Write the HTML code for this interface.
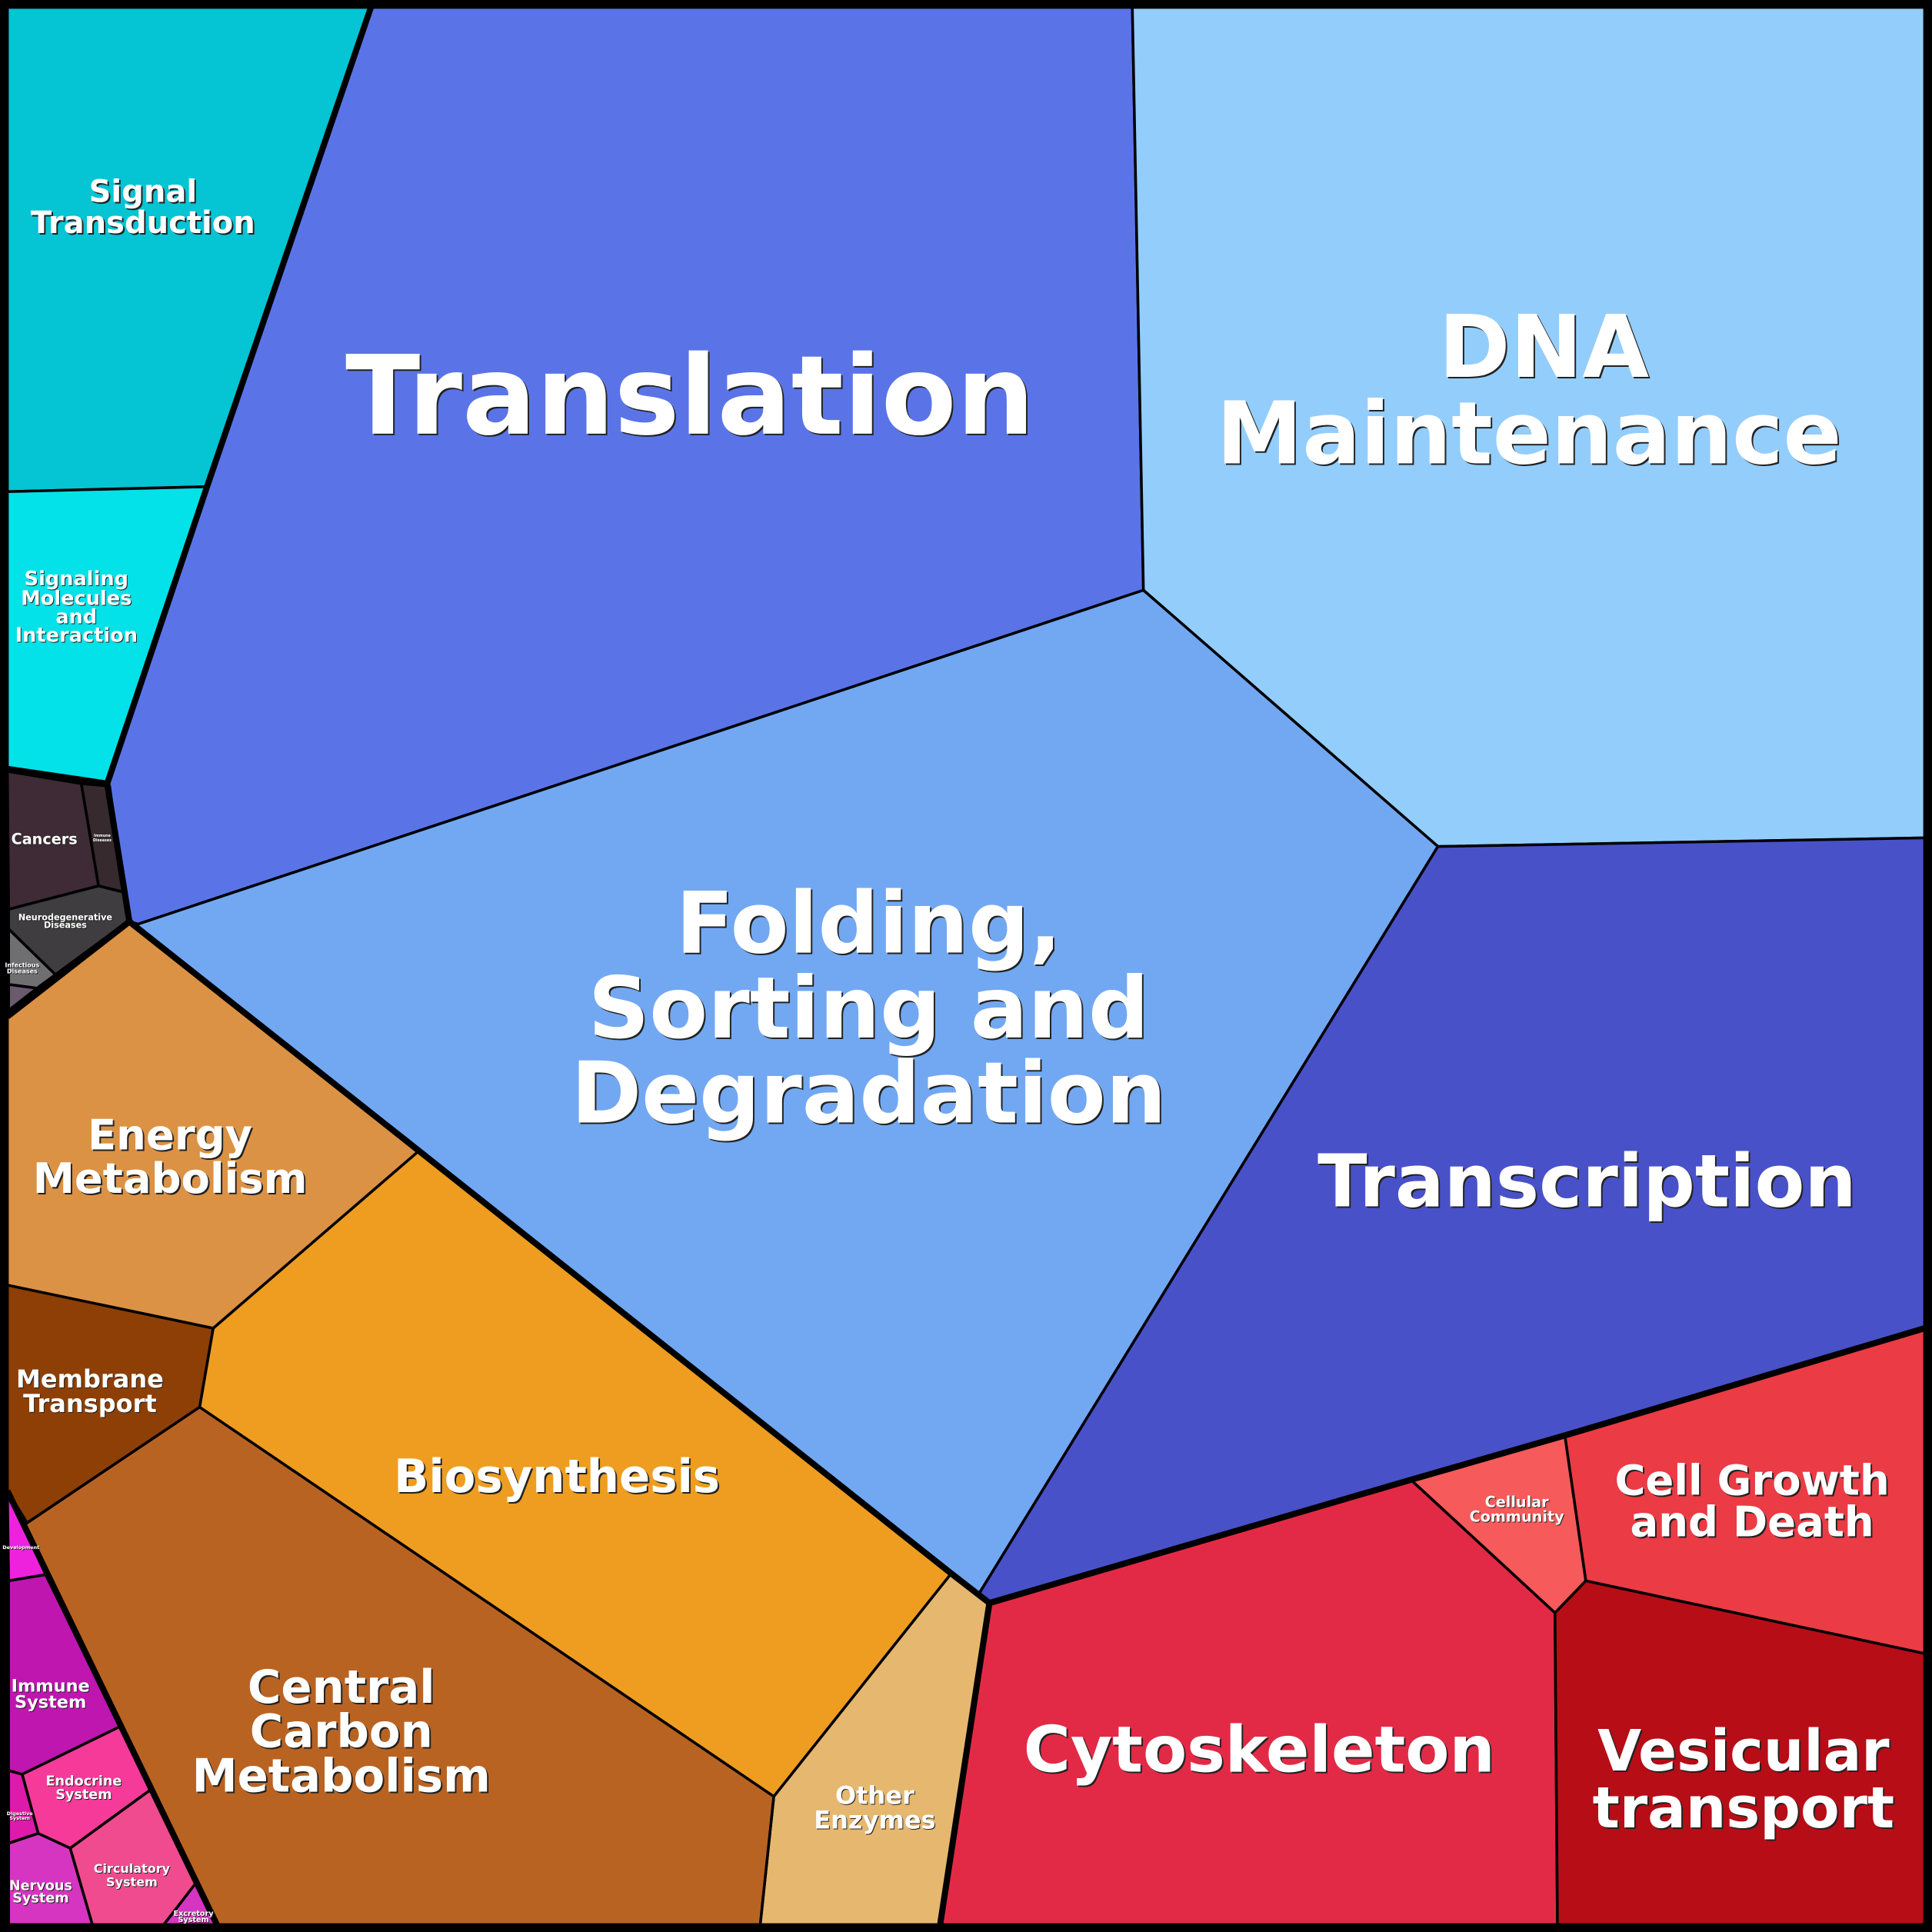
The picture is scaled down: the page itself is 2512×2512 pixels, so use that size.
<!DOCTYPE html>
<html><head><meta charset="utf-8"><style>
html,body{margin:0;padding:0;background:#000}
svg{display:block}
text{font-family:"DejaVu Sans","Liberation Sans",sans-serif;font-weight:bold;fill:#fff;text-anchor:middle}
</style></head><body>
<svg width="2512" height="2512" viewBox="0 0 1568 1568" xmlns="http://www.w3.org/2000/svg">
<g stroke="#000" stroke-width="2.2" stroke-linejoin="round">
<polygon fill="#05c4d4" points="6,6 301,6 168,395 6,399"/>
<polygon fill="#03e2e8" points="6,399 168,395 87,636 6,624"/>
<polygon fill="#5a74e8" points="301,6 919,6 928,479 112,750 105,748 87,636 168,395"/>
<polygon fill="#93cdfc" points="919,6 1562,6 1562,680 1167,687 928,479"/>
<polygon fill="#72a8f2" points="928,479 1167,687 793,1296 772,1277 340,934 105,748 112,750"/>
<polygon fill="#4951c8" points="1167,687 1562,680 1562,1078 1270,1165 1145,1201 803,1301 793,1296"/>
<polygon fill="#eb3b45" points="1270,1165 1562,1078 1562,1342 1287,1283"/>
<polygon fill="#f65a5a" points="1145,1201 1270,1165 1287,1283 1262,1309"/>
<polygon fill="#e22a47" points="803,1301 1145,1201 1262,1309 1264,1562 763,1562"/>
<polygon fill="#b70d17" points="1262,1309 1287,1283 1562,1342 1562,1562 1264,1562"/>
<polygon fill="#e6b76f" points="772,1277 803,1301 763,1562 617,1562 628,1458"/>
<polygon fill="#ee9d20" points="340,934 772,1277 628,1458 162,1142 173,1078"/>
<polygon fill="#db9244" points="6,825 105,748 340,934 173,1078 6,1043"/>
<polygon fill="#8e3f05" points="6,1043 173,1078 162,1142 22,1236 6,1210"/>
<polygon fill="#b96323" points="22,1236 162,1142 628,1458 617,1562 176,1562 6,1210"/>
<polygon fill="#3e2b36" points="6,626 66,636 80,719 7,738"/>
<polygon fill="#362a2e" points="66,636 89,638 100,724 80,719"/>
<polygon fill="#3f3d3f" points="7,738 80,719 100,724 106,746 45,791 7,754"/>
<polygon fill="#6f6f71" points="7,754 45,791 30,802 7,799"/>
<polygon fill="#6b5a6e" points="7,799 30,802 7,820"/>
<polygon fill="#ee22dd" points="6,1210 37,1278 7,1283"/>
<polygon fill="#bf16b0" points="7,1283 37,1278 98,1401 18,1440 7,1437"/>
<polygon fill="#f53a9a" points="18,1440 98,1401 123,1452 57,1500 31,1488"/>
<polygon fill="#dd1aaa" points="7,1437 18,1440 31,1488 7,1496"/>
<polygon fill="#d535c0" points="7,1496 31,1488 57,1500 75,1562 7,1562"/>
<polygon fill="#f04b8f" points="57,1500 123,1452 160,1527 133,1562 75,1562"/>
<polygon fill="#d535c0" points="133,1562 160,1527 176,1562"/>
</g>
<g stroke="#000" stroke-width="5" fill="none" stroke-linejoin="round">
<polyline points="301,6 168,395 87,636"/>
<polyline points="6,624 87,636 105,748 6,825"/>
<polyline points="105,748 340,934 772,1277 803,1301 763,1562"/>
<polyline points="803,1301 1145,1201 1270,1165 1562,1078"/>
<polyline points="6,1210 176,1562"/>
</g>
<rect x="3" y="3" width="1562" height="1562" fill="none" stroke="#000" stroke-width="7"/>
<g style="text-shadow:2px 2px 0 #222">
<text x="560" y="352" font-size="89">Translation</text>
<text x="1253" y="306" font-size="70">DNA</text>
<text x="1241" y="376" font-size="70">Maintenance</text>
<text x="705" y="773" font-size="69">Folding,</text>
<text x="705" y="842" font-size="69">Sorting and</text>
<text x="705" y="911" font-size="69">Degradation</text>
<text x="1288" y="979" font-size="59">Transcription</text>
<text x="1022" y="1438" font-size="52">Cytoskeleton</text>
<text x="1415" y="1437" font-size="46">Vesicular</text>
<text x="1415" y="1483" font-size="46">transport</text>
<text x="1422" y="1213" font-size="34">Cell Growth</text>
<text x="1422" y="1247" font-size="34">and Death</text>
<text x="452" y="1211" font-size="37">Biosynthesis</text>
<text x="277" y="1382" font-size="37">Central</text>
<text x="277" y="1418" font-size="37">Carbon</text>
<text x="277" y="1454" font-size="37">Metabolism</text>
<text x="138" y="933" font-size="34">Energy</text>
<text x="138" y="968" font-size="34">Metabolism</text>
<text x="116" y="164" font-size="25">Signal</text>
<text x="116" y="189" font-size="25">Transduction</text>
</g>
<g style="text-shadow:1px 1px 0 #222">
<text x="1231" y="1223" font-size="12">Cellular</text>
<text x="1231" y="1235" font-size="12">Community</text>
<text x="710" y="1464" font-size="20">Other</text>
<text x="710" y="1484" font-size="20">Enzymes</text>
<text x="73" y="1126" font-size="20">Membrane</text>
<text x="73" y="1146" font-size="20">Transport</text>
<text x="62" y="475" font-size="16">Signaling</text>
<text x="62" y="491" font-size="16">Molecules</text>
<text x="62" y="506" font-size="16">and</text>
<text x="62" y="521" font-size="16">Interaction</text>
<text x="36" y="685" font-size="12">Cancers</text>
<text x="53" y="747" font-size="7">Neurodegenerative</text>
<text x="53" y="753" font-size="7">Diseases</text>
<text x="83" y="679" font-size="3">Immune</text>
<text x="83" y="683" font-size="3">Diseases</text>
<text x="18" y="785" font-size="5">Infectious</text>
<text x="18" y="790" font-size="5">Diseases</text>
<text x="41" y="1373" font-size="14">Immune</text>
<text x="41" y="1386" font-size="14">System</text>
<text x="68" y="1449" font-size="11">Endocrine</text>
<text x="68" y="1460" font-size="11">System</text>
<text x="107" y="1520" font-size="10">Circulatory</text>
<text x="107" y="1531" font-size="10">System</text>
<text x="33" y="1534" font-size="11">Nervous</text>
<text x="33" y="1544" font-size="11">System</text>
<text x="157" y="1555" font-size="6">Excretory</text>
<text x="157" y="1560" font-size="6">System</text>
<text x="16" y="1473" font-size="4">Digestive</text>
<text x="16" y="1477" font-size="4">System</text>
<text x="17" y="1257" font-size="4">Development</text>
</g>
</svg>
</body></html>
